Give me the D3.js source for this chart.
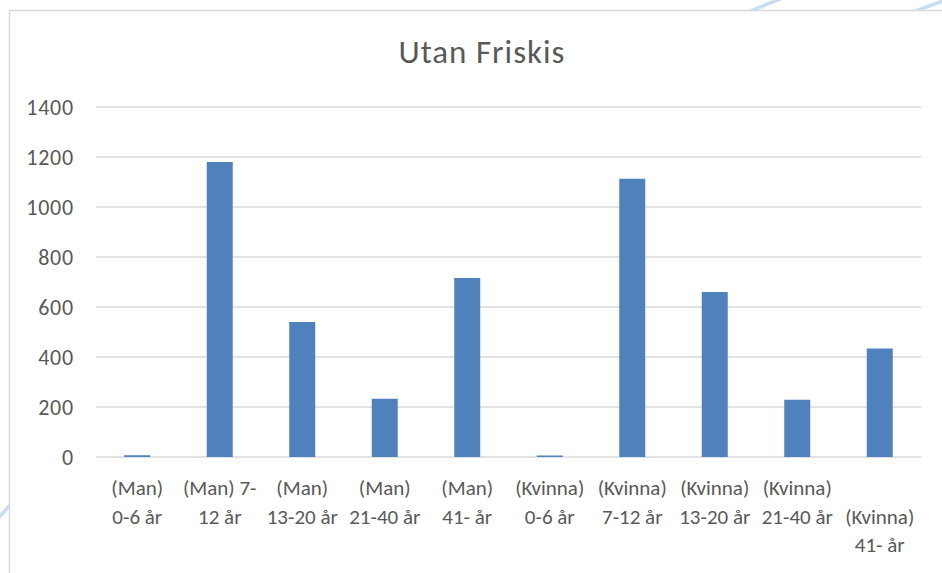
<!DOCTYPE html>
<html>
<head>
<meta charset="utf-8">
<script src="https://cdn.jsdelivr.net/npm/d3@7"></script>
<style>
  html, body { margin: 0; padding: 0; background: #fff; }
  svg { display: block; }
  text { font-family: Carlito, Lato, "Open Sans", sans-serif; fill: #595959; }
</style>
</head>
<body>
<svg id="chart" width="942" height="573"></svg>
<script>
const title = "Utan Friskis";
const categories = [
  "(Man) 0-6 år", "(Man) 7-12 år", "(Man) 13-20 år", "(Man) 21-40 år", "(Man) 41- år",
  "(Kvinna) 0-6 år", "(Kvinna) 7-12 år", "(Kvinna) 13-20 år", "(Kvinna) 21-40 år", "(Kvinna) 41- år"
];
const categoryLines = [
  ["(Man)", "0-6 år"], ["(Man) 7-", "12 år"], ["(Man)", "13-20 år"], ["(Man)", "21-40 år"], ["(Man)", "41- år"],
  ["(Kvinna)", "0-6 år"], ["(Kvinna)", "7-12 år"], ["(Kvinna)", "13-20 år"], ["(Kvinna)", "21-40 år"], ["", "(Kvinna)", "41- år"]
];
const values = [7, 1180, 540, 233, 716, 6, 1113, 660, 229, 434];
const yTicks = [0, 200, 400, 600, 800, 1000, 1200, 1400];

const svg = d3.select("#chart");

// background decorations (behind chart area)
const deco = svg.append("g").attr("fill", "none").attr("stroke", "#c9ddf1").attr("stroke-width", 3.5);
deco.append("path").attr("d", "M 740 16 Q 770 2 800 -8");
deco.append("path").attr("d", "M 905 16 Q 930 4 960 -4");
deco.append("path").attr("d", "M -8 525 Q 4 512 18 496");

// chart area
svg.append("rect")
  .attr("x", 9.5).attr("y", 10.5)
  .attr("width", 1000).attr("height", 1000)
  .attr("fill", "#fff").attr("stroke", "#d9d9d9").attr("stroke-width", 1.5);

const x = d3.scaleBand().domain(categories).range([96, 921]).paddingInner(0.685).paddingOuter(0.3425);
const y = d3.scaleLinear().domain([0, 1400]).range([457, 107]);

// gridlines
svg.append("g").selectAll("line").data(yTicks).join("line")
  .attr("x1", 96).attr("x2", 921)
  .attr("y1", d => y(d)).attr("y2", d => y(d))
  .attr("stroke", "#d9d9d9").attr("stroke-width", 1.6);

// y axis labels
const yAxis = d3.axisLeft(y).tickValues(yTicks).tickSize(0).tickPadding(0).tickFormat(d3.format("d"));
const gy = svg.append("g").attr("transform", "translate(74,0)").call(yAxis);
gy.select(".domain").remove();
gy.selectAll("text").attr("font-size", 22).style("fill", "#595959")
  .style("letter-spacing", "0.8px")
  .style("font-family", "Carlito, Lato, 'Open Sans', sans-serif");

// bars
svg.append("g").selectAll("rect").data(values).join("rect")
  .attr("x", (d, i) => x(categories[i]))
  .attr("width", x.bandwidth())
  .attr("y", d => y(d))
  .attr("height", d => y(0) - y(d))
  .attr("fill", "#4f81bd");

// category labels
const lineY = [495, 524, 552];
const cg = svg.append("g");
categoryLines.forEach((lines, i) => {
  const t = cg.append("text")
    .attr("text-anchor", "middle")
    .attr("font-size", 21);
  lines.forEach((ln, j) => {
    t.append("tspan")
      .attr("x", x(categories[i]) + x.bandwidth() / 2)
      .attr("y", lineY[j])
      .text(ln);
  });
});

// title
svg.append("text")
  .attr("x", 482).attr("y", 63)
  .attr("text-anchor", "middle")
  .attr("font-size", 33)
  .style("letter-spacing", "1px")
  .text(title);
</script>
</body>
</html>
